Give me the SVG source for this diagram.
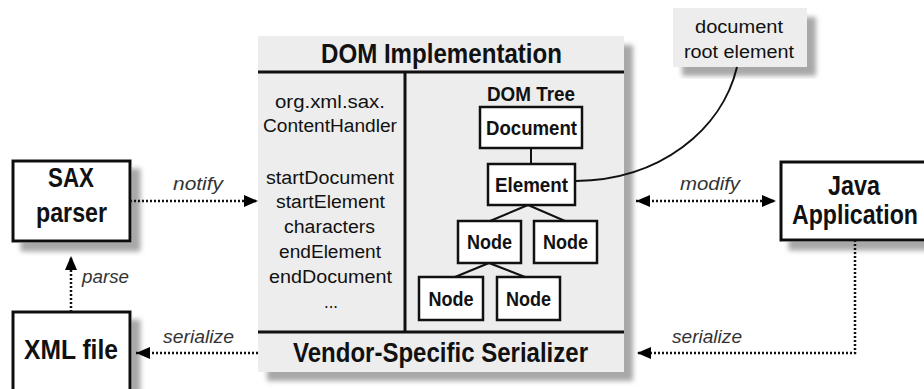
<svg xmlns="http://www.w3.org/2000/svg" width="924" height="389" viewBox="0 0 924 389">
<defs>
<filter id="sh" x="-10%" y="-10%" width="130%" height="130%">
<feOffset in="SourceAlpha" dx="9" dy="9" result="o"/>
<feGaussianBlur in="o" stdDeviation="2.5" result="b"/>
<feFlood flood-color="#a8a8a8"/>
<feComposite in2="b" operator="in" result="s"/>
<feMerge><feMergeNode in="s"/><feMergeNode in="SourceGraphic"/></feMerge>
</filter>
<marker id="ah" viewBox="0 0 14 12" refX="14" refY="6" markerWidth="14" markerHeight="12" markerUnits="userSpaceOnUse" orient="auto-start-reverse">
<path d="M0,0 L14,6 L0,12 z" fill="#000"/>
</marker>
<style>
text{font-family:"Liberation Sans",Arial,sans-serif;fill:#111;text-anchor:middle}
.big{font-size:28px;font-weight:bold}
.nd{font-size:21px;font-weight:bold}
.r{font-size:18px}
.lbl{font-size:18px;font-style:italic;fill:#333}
.box{fill:#fff;stroke:#111;stroke-width:3}
.tb{fill:#fff;stroke:#111;stroke-width:2.5}
.dot{fill:none;stroke:#111;stroke-width:2.5;stroke-dasharray:2 2}
.ln{fill:none;stroke:#111;stroke-width:2}
</style>
</defs>

<g id="dom-implementation">
<rect x="258" y="36" width="366" height="336" fill="#ededed" filter="url(#sh)"/>
<line x1="258" y1="72" x2="624" y2="72" stroke="#111" stroke-width="3"/>
<line x1="405" y1="72" x2="405" y2="332" stroke="#111" stroke-width="3"/>
<line x1="258" y1="332" x2="624" y2="332" stroke="#111" stroke-width="3"/>
<text class="big" x="441.5" y="63" textLength="241" lengthAdjust="spacingAndGlyphs">DOM Implementation</text>
<text class="r" x="330" y="108" textLength="110" lengthAdjust="spacingAndGlyphs">org.xml.sax.</text>
<text class="r" x="330" y="132" textLength="134" lengthAdjust="spacingAndGlyphs">ContentHandler</text>
<text class="r" x="330" y="184" textLength="128" lengthAdjust="spacingAndGlyphs">startDocument</text>
<text class="r" x="330.5" y="208" textLength="109" lengthAdjust="spacingAndGlyphs">startElement</text>
<text class="r" x="329.5" y="233" textLength="91" lengthAdjust="spacingAndGlyphs">characters</text>
<text class="r" x="330" y="258" textLength="102" lengthAdjust="spacingAndGlyphs">endElement</text>
<text class="r" x="330.5" y="283" textLength="123" lengthAdjust="spacingAndGlyphs">endDocument</text>
<text class="r" x="331" y="308" textLength="14" lengthAdjust="spacingAndGlyphs">...</text>
<text class="nd" x="531" y="101" style="font-size:20px" textLength="88" lengthAdjust="spacingAndGlyphs">DOM Tree</text>
<text class="big" x="440.5" y="362" textLength="295" lengthAdjust="spacingAndGlyphs">Vendor-Specific Serializer</text>
</g>

<g id="tree-lines">
<line class="ln" x1="531" y1="148" x2="531" y2="164"/>
<line class="ln" x1="528" y1="205" x2="490" y2="221"/>
<line class="ln" x1="528" y1="205" x2="565" y2="221"/>
<line class="ln" x1="489" y1="263" x2="455" y2="277"/>
<line class="ln" x1="489" y1="263" x2="525" y2="277"/>
</g>
<g id="document">
<rect class="tb" x="480" y="107" width="102" height="41"/>
<text class="nd" x="531.5" y="135" textLength="91" lengthAdjust="spacingAndGlyphs">Document</text>
</g>
<g id="element">
<rect class="tb" x="488" y="164" width="87" height="41"/>
<text class="nd" x="531.5" y="192" textLength="73" lengthAdjust="spacingAndGlyphs">Element</text>
</g>
<g id="node1">
<rect class="tb" x="458" y="221" width="63" height="42"/>
<text class="nd" x="489.5" y="249" textLength="45" lengthAdjust="spacingAndGlyphs">Node</text>
</g>
<g id="node2">
<rect class="tb" x="534" y="221" width="63" height="42"/>
<text class="nd" x="565.5" y="249" textLength="45" lengthAdjust="spacingAndGlyphs">Node</text>
</g>
<g id="node3">
<rect class="tb" x="419" y="277" width="64" height="43"/>
<text class="nd" x="451" y="306" textLength="45" lengthAdjust="spacingAndGlyphs">Node</text>
</g>
<g id="node4">
<rect class="tb" x="497" y="277" width="63" height="43"/>
<text class="nd" x="528.5" y="306" textLength="45" lengthAdjust="spacingAndGlyphs">Node</text>
</g>

<g id="callout">
<rect x="673" y="8" width="134" height="59" fill="#ededed" filter="url(#sh)"/>
<text class="r" x="739" y="33" textLength="88" lengthAdjust="spacingAndGlyphs">document</text>
<text class="r" x="739" y="58" textLength="110" lengthAdjust="spacingAndGlyphs">root element</text>
</g>

<g id="sax-parser">
<rect class="box" x="13" y="161" width="117" height="80" filter="url(#sh)"/>
<text class="big" x="71" y="187" textLength="46" lengthAdjust="spacingAndGlyphs">SAX</text>
<text class="big" x="71.5" y="222" textLength="71" lengthAdjust="spacingAndGlyphs">parser</text>
</g>

<g id="xml-file">
<rect class="box" x="13" y="312" width="117" height="90" filter="url(#sh)"/>
<text class="big" x="71" y="359" textLength="94" lengthAdjust="spacingAndGlyphs">XML file</text>
</g>

<g id="java-application">
<rect class="box" x="781" y="162" width="160" height="78" filter="url(#sh)"/>
<text class="big" x="854" y="195" textLength="52" lengthAdjust="spacingAndGlyphs">Java</text>
<text class="big" x="855" y="224" textLength="126" lengthAdjust="spacingAndGlyphs">Application</text>
</g>

<g id="connectors">
<path class="dot" d="M130,201 H258" marker-end="url(#ah)"/>
<path class="dot" d="M71,312 V256" marker-end="url(#ah)"/>
<path class="dot" d="M258,353 H136" marker-end="url(#ah)"/>
<path class="dot" d="M636,201 H776" marker-start="url(#ah)" marker-end="url(#ah)"/>
<path class="dot" d="M855,240 V353 H637" marker-end="url(#ah)"/>
<path class="ln" d="M737,67 C722,130 660,180 576,181"/>
<text class="lbl" x="198" y="190" textLength="50" lengthAdjust="spacingAndGlyphs">notify</text>
<text class="lbl" x="105.5" y="283" textLength="47" lengthAdjust="spacingAndGlyphs">parse</text>
<text class="lbl" x="198.5" y="343" textLength="71" lengthAdjust="spacingAndGlyphs">serialize</text>
<text class="lbl" x="710" y="190" textLength="60" lengthAdjust="spacingAndGlyphs">modify</text>
<text class="lbl" x="707" y="343" textLength="70" lengthAdjust="spacingAndGlyphs">serialize</text>
</g>
</svg>
